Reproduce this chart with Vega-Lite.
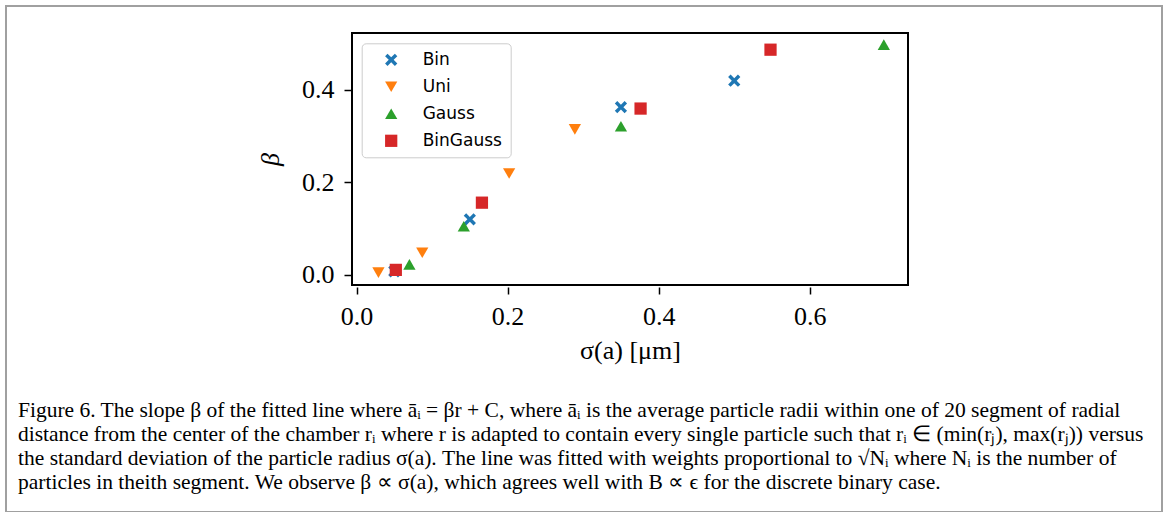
{
  "$schema": "https://vega.github.io/schema/vega-lite/v6.json",
  "width": 1156,
  "height": 506,
  "autosize": {"type": "none"},
  "padding": {"left": 6, "top": 6, "right": 6, "bottom": 0},
  "background": "white",
  "config": {
    "view": {"stroke": "#a0a0a0", "strokeWidth": 2},
    "font": "Liberation Serif"
  },
  "title": {
    "text": [
      "Figure 6. The slope β of the fitted line where āᵢ = βr + C, where āᵢ is the average particle radii within one of 20 segment of radial",
      "distance from the center of the chamber rᵢ where r is adapted to contain every single particle such that rᵢ ∈ (min(rⱼ), max(rⱼ)) versus",
      "the standard deviation of the particle radius σ(a). The line was fitted with weights proportional to √Nᵢ where Nᵢ is the number of",
      "particles in theith segment. We observe β ∝ σ(a), which agrees well with B ∝ ϵ for the discrete binary case."
    ],
    "orient": "bottom",
    "anchor": "start",
    "frame": "group",
    "offset": -112,
    "dx": 12,
    "font": "Liberation Serif",
    "fontSize": 21.5,
    "fontWeight": "normal",
    "color": "black",
    "lineHeight": 24
  },
  "datasets": {
    "pts": [
      {"type": "Bin", "sigma": 0.05, "beta": 0.008},
      {"type": "Bin", "sigma": 0.15, "beta": 0.12},
      {"type": "Bin", "sigma": 0.35, "beta": 0.362},
      {"type": "Bin", "sigma": 0.5, "beta": 0.419},
      {"type": "Uni", "sigma": 0.029, "beta": 0.005},
      {"type": "Uni", "sigma": 0.087, "beta": 0.048},
      {"type": "Uni", "sigma": 0.202, "beta": 0.219},
      {"type": "Uni", "sigma": 0.289, "beta": 0.314},
      {"type": "Gauss", "sigma": 0.07, "beta": 0.023},
      {"type": "Gauss", "sigma": 0.142, "beta": 0.105},
      {"type": "Gauss", "sigma": 0.35, "beta": 0.321},
      {"type": "Gauss", "sigma": 0.698, "beta": 0.497},
      {"type": "BinGauss", "sigma": 0.052, "beta": 0.011},
      {"type": "BinGauss", "sigma": 0.166, "beta": 0.156},
      {"type": "BinGauss", "sigma": 0.376, "beta": 0.359},
      {"type": "BinGauss", "sigma": 0.548, "beta": 0.486}
    ]
  },
  "resolve": {"axis": {"x": "independent", "y": "independent"}},
  "layer": [
    {
      "data": {"values": [{}]},
      "mark": {"type": "rect", "fill": null, "stroke": "black", "strokeWidth": 2},
      "encoding": {
        "x": {"datum": -0.006, "type": "quantitative", "axis": null},
        "x2": {"datum": 0.73},
        "y": {"datum": -0.0216, "type": "quantitative", "axis": null},
        "y2": {"datum": 0.522}
      }
    },
    {
      "data": {"name": "pts"},
      "mark": {"type": "point", "filled": true, "opacity": 1, "size": 150, "strokeWidth": 0},
      "encoding": {
        "x": {
          "field": "sigma",
          "type": "quantitative",
          "scale": {"domain": [-0.006, 0.73], "range": [346, 902], "nice": false, "zero": false},
          "axis": {
            "orient": "bottom",
            "offset": -225,
            "values": [0, 0.2, 0.4, 0.6],
            "format": ".1f",
            "domain": false,
            "grid": false,
            "tickSize": 7,
            "tickWidth": 1.5,
            "tickColor": "black",
            "labelFont": "Liberation Serif",
            "labelFontSize": 26,
            "labelColor": "black",
            "labelPadding": 9,
            "labelFlush": false,
            "labelOverlap": false,
            "labelBound": false,
            "title": "σ(a) [μm]",
            "titleFont": "Liberation Serif",
            "titleFontSize": 26,
            "titleFontWeight": "normal",
            "titleColor": "black",
            "titlePadding": 8
          }
        },
        "y": {
          "field": "beta",
          "type": "quantitative",
          "scale": {"domain": [-0.0216, 0.522], "range": [279, 27], "nice": false, "zero": false},
          "axis": {
            "orient": "left",
            "offset": -346,
            "values": [0, 0.2, 0.4],
            "format": ".1f",
            "domain": false,
            "grid": false,
            "tickSize": 8,
            "tickWidth": 1.5,
            "tickColor": "black",
            "labelFont": "Liberation Serif",
            "labelFontSize": 26,
            "labelColor": "black",
            "labelPadding": 10,
            "labelFlush": false,
            "labelOverlap": false,
            "labelBound": false,
            "title": "β",
            "titleFont": "Liberation Serif",
            "titleFontSize": 26,
            "titleFontStyle": "italic",
            "titleFontWeight": "normal",
            "titleColor": "black",
            "titlePadding": 18
          }
        },
        "color": {
          "field": "type",
          "type": "nominal",
          "scale": {"domain": ["Bin", "Uni", "Gauss", "BinGauss"], "range": ["#1f77b4", "#ff7f0e", "#2ca02c", "#d62728"]},
          "legend": {
            "orient": "none",
            "legendX": 355.7,
            "legendY": 37.3,
            "title": null,
            "padding": 8,
            "strokeColor": "#cccccc",
            "cornerRadius": 4,
            "fillColor": "white",
            "symbolSize": 150,
            "symbolOffset": 13,
            "symbolStrokeWidth": 0,
            "labelOffset": 23,
            "rowPadding": 9,
            "labelFont": "DejaVu Sans",
            "labelFontSize": 17,
            "labelColor": "black"
          }
        },
        "shape": {
          "field": "type",
          "type": "nominal",
          "scale": {"domain": ["Bin", "Uni", "Gauss", "BinGauss"], "range": ["M-1,-0.6L-0.6,-1L0,-0.4L0.6,-1L1,-0.6L0.4,0L1,0.6L0.6,1L0,0.4L-0.6,1L-1,0.6L-0.4,0Z", "triangle-down", "triangle-up", "square"]}
        }
      }
    }
  ]
}
